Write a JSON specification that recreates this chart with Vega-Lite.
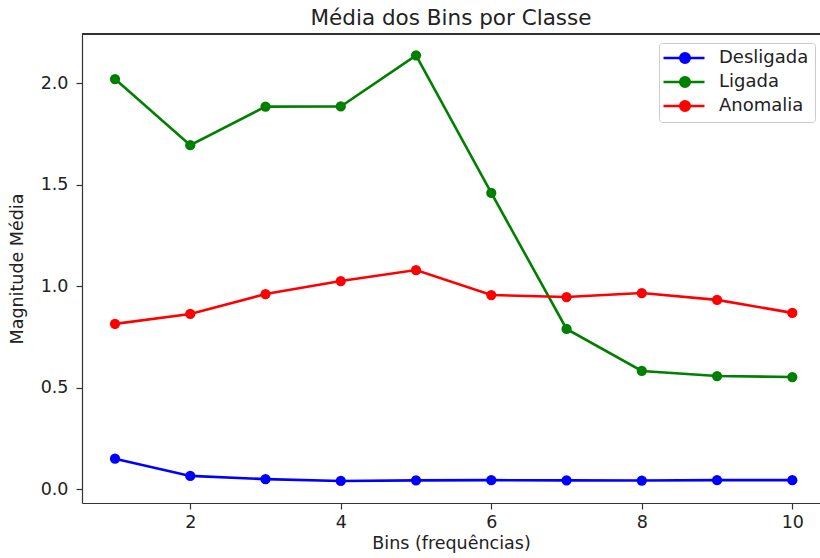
{
  "$schema": "https://vega.github.io/schema/vega-lite/v6.json",
  "width": 738,
  "height": 469,
  "autosize": {"type": "none"},
  "padding": {"left": 82, "top": 34, "right": 0, "bottom": 55},
  "background": "white",
  "config": {
    "view": {"stroke": null},
    "font": "DejaVu Sans",
    "axis": {
      "domainColor": "#333333",
      "domainWidth": 1.2,
      "tickColor": "#333333",
      "tickWidth": 1.2,
      "tickSize": 6,
      "labelFont": "DejaVu Sans",
      "labelFontSize": 17.5,
      "labelColor": "#222222",
      "titleFont": "DejaVu Sans",
      "titleFontSize": 17.5,
      "titleFontWeight": "normal",
      "titleColor": "#222222",
      "grid": false
    }
  },
  "title": {
    "text": "Média dos Bins por Classe",
    "fontSize": 21.5,
    "fontWeight": "normal",
    "font": "DejaVu Sans",
    "color": "#222222",
    "anchor": "middle",
    "offset": 4
  },
  "data": {
    "values": [
      {"bin": 1, "classe": "Desligada", "valor": 0.151},
      {"bin": 2, "classe": "Desligada", "valor": 0.066},
      {"bin": 3, "classe": "Desligada", "valor": 0.050},
      {"bin": 4, "classe": "Desligada", "valor": 0.041},
      {"bin": 5, "classe": "Desligada", "valor": 0.044},
      {"bin": 6, "classe": "Desligada", "valor": 0.045},
      {"bin": 7, "classe": "Desligada", "valor": 0.044},
      {"bin": 8, "classe": "Desligada", "valor": 0.043},
      {"bin": 9, "classe": "Desligada", "valor": 0.045},
      {"bin": 10, "classe": "Desligada", "valor": 0.045},
      {"bin": 1, "classe": "Ligada", "valor": 2.021},
      {"bin": 2, "classe": "Ligada", "valor": 1.695},
      {"bin": 3, "classe": "Ligada", "valor": 1.885},
      {"bin": 4, "classe": "Ligada", "valor": 1.886},
      {"bin": 5, "classe": "Ligada", "valor": 2.138},
      {"bin": 6, "classe": "Ligada", "valor": 1.46},
      {"bin": 7, "classe": "Ligada", "valor": 0.79},
      {"bin": 8, "classe": "Ligada", "valor": 0.583},
      {"bin": 9, "classe": "Ligada", "valor": 0.558},
      {"bin": 10, "classe": "Ligada", "valor": 0.553},
      {"bin": 1, "classe": "Anomalia", "valor": 0.815},
      {"bin": 2, "classe": "Anomalia", "valor": 0.864},
      {"bin": 3, "classe": "Anomalia", "valor": 0.962},
      {"bin": 4, "classe": "Anomalia", "valor": 1.026},
      {"bin": 5, "classe": "Anomalia", "valor": 1.08},
      {"bin": 6, "classe": "Anomalia", "valor": 0.957},
      {"bin": 7, "classe": "Anomalia", "valor": 0.947},
      {"bin": 8, "classe": "Anomalia", "valor": 0.967},
      {"bin": 9, "classe": "Anomalia", "valor": 0.933},
      {"bin": 10, "classe": "Anomalia", "valor": 0.869}
    ]
  },
  "layer": [
    {
      "mark": {"type": "line", "strokeWidth": 2.6, "point": {"filled": true, "size": 105, "opacity": 1}},
      "encoding": {
        "x": {
          "field": "bin",
          "type": "quantitative",
          "scale": {"domain": [0.5615, 10.368], "nice": false, "zero": false},
          "axis": {"values": [2, 4, 6, 8, 10], "title": "Bins (frequências)", "labelPadding": 4, "titlePadding": 4}
        },
        "y": {
          "field": "valor",
          "type": "quantitative",
          "scale": {"domain": [-0.0675, 2.243], "nice": false, "zero": false},
          "axis": {"values": [0, 0.5, 1, 1.5, 2], "format": ".1f", "title": "Magnitude Média", "labelPadding": 8, "titlePadding": 14}
        },
        "color": {
          "field": "classe",
          "type": "nominal",
          "scale": {"domain": ["Desligada", "Ligada", "Anomalia"], "range": ["#0000ff", "#008000", "#ff0000"]},
          "legend": {
            "title": null,
            "orient": "none",
            "legendX": 577,
            "legendY": 9,
            "symbolType": "M -2.1 0 L 6.1 0 M 1.25 0 A 0.95 0.95 0 1 0 3.15 0 A 0.95 0.95 0 1 0 1.25 0 Z",
            "symbolSize": 100,
            "symbolStrokeWidth": 2.6,
            "labelOffset": 36,
            "labelFontSize": 18,
            "labelFont": "DejaVu Sans",
            "labelColor": "#222222",
            "padding": 6,
            "rowPadding": 4,
            "fillColor": "white",
            "strokeColor": "#cccccc",
            "cornerRadius": 3,
            "encode": {
              "symbols": {
                "update": {
                  "fill": {"scale": "color", "field": "value"},
                  "stroke": {"scale": "color", "field": "value"},
                  "opacity": {"value": 1}
                }
              }
            }
          }
        }
      }
    },
    {
      "mark": {"type": "rule", "color": "#333333", "strokeWidth": 1.2},
      "encoding": {
        "y": {"datum": 2.243, "type": "quantitative"}
      }
    }
  ]
}
